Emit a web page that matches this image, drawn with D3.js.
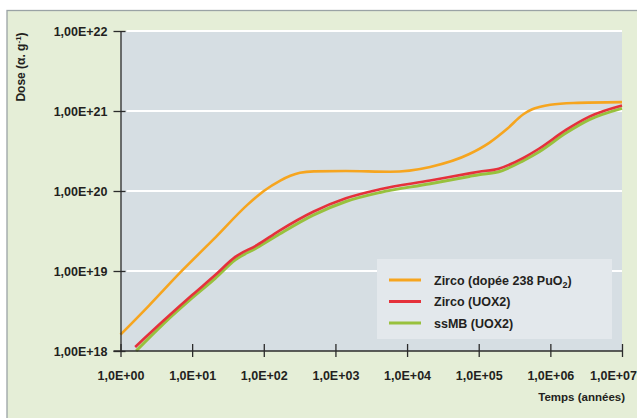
<!DOCTYPE html>
<html>
<head>
<meta charset="utf-8">
<script src="https://cdn.jsdelivr.net/npm/d3@7"></script>
<style>
  body { margin: 0; background: #fff; }
  svg { display: block; font-family: "Liberation Sans", Arial, sans-serif; }
  .axis path, .axis line { stroke: #2b2b2b; stroke-width: 1.3; }
  .axis text { font-size: 12.5px; font-weight: bold; fill: #231f20; }
</style>
</head>
<body>
<svg width="637" height="418"></svg>
<script>
// ages (years) and doses (alpha per gram)
var orangeYears = [1, 2.5, 7, 20, 60, 100, 170, 235, 320, 500, 1400, 5800, 2.1e4, 7.4e4, 1.4e5, 2.5e5, 4.2e5, 5.6e5, 7e5, 1e6, 2.1e6, 1e7];
var orangeDose  = [1.6e18, 3.7e18, 9.8e18, 2.5e19, 6.8e19, 1.0e20, 1.35e20, 1.55e20, 1.69e20, 1.76e20, 1.78e20, 1.74e20, 2.0e20, 2.9e20, 4.0e20, 6.0e20, 9.1e20, 1.05e21, 1.12e21, 1.2e21, 1.26e21, 1.29e21];

var redYears = [1.6, 4, 10, 21, 40, 80, 166, 490, 1400, 4200, 2.1e4, 7.4e4, 1e5, 1.9e5, 4.2e5, 7e5, 1.65e6, 3.5e6, 1e7];
var redDose  = [1.12e18, 2.4e18, 5.0e18, 8.9e18, 1.5e19, 2.1e19, 3.2e19, 5.5e19, 8.1e19, 1.05e20, 1.35e20, 1.66e20, 1.74e20, 1.9e20, 2.6e20, 3.4e20, 5.8e20, 8.5e20, 1.17e21];

var greenYears = [1.65, 4, 10, 21, 40, 80, 166, 490, 1400, 4200, 2.1e4, 7.4e4, 1e5, 1.9e5, 4.2e5, 7e5, 1.65e6, 3.5e6, 1e7];
var greenDose  = [1.0e18, 2.2e18, 4.6e18, 8.1e18, 1.38e19, 1.95e19, 2.9e19, 5.0e19, 7.4e19, 9.6e19, 1.23e20, 1.52e20, 1.6e20, 1.74e20, 2.4e20, 3.1e20, 5.3e20, 7.8e20, 1.08e21];

var xTicks = [1, 1e1, 1e2, 1e3, 1e4, 1e5, 1e6, 1e7];
var xTickLabels = ["1,0E+00", "1,0E+01", "1,0E+02", "1,0E+03", "1,0E+04", "1,0E+05", "1,0E+06", "1,0E+07"];
var yTicks = [1e18, 1e19, 1e20, 1e21, 1e22];
var yTickLabels = ["1,00E+18", "1,00E+19", "1,00E+20", "1,00E+21", "1,00E+22"];

var seriesNames = ["Zirco (dopée 238 PuO", "Zirco (UOX2)", "ssMB (UOX2)"];
var seriesColors = ["#f6a51f", "#e5313b", "#98c13d"];

var svg = d3.select("svg");

// frame
svg.append("rect").attr("x", 7).attr("y", 10.5).attr("width", 640).attr("height", 420)
    .attr("fill", "#e5eed7").attr("stroke", "#9aa3a5").attr("stroke-width", 1.3);

var x = d3.scaleLog().domain([1, 1e7]).range([120.5, 622]);
var y = d3.scaleLog().domain([1e18, 1e22]).range([351, 31]);

// plot area
svg.append("rect")
    .attr("x", x(1)).attr("y", y(1e22))
    .attr("width", x(1e7) - x(1)).attr("height", y(1e18) - y(1e22))
    .attr("fill", "#d6dee3");

svg.selectAll(".grid")
    .data(yTicks.slice(1))
    .enter().append("line")
    .attr("class", "grid")
    .attr("x1", x(1) + 6).attr("x2", x(1e7))
    .attr("y1", d => y(d)).attr("y2", d => y(d))
    .attr("stroke", "#fff").attr("stroke-width", 2.2);

// curves
var line = d3.line()
    .x(d => x(d[0]))
    .y(d => y(d[1]))
    .curve(d3.curveMonotoneX);

var series = [
    { years: greenYears, dose: greenDose, color: seriesColors[2], w: 3 },
    { years: redYears, dose: redDose, color: seriesColors[1], w: 2.6 },
    { years: orangeYears, dose: orangeDose, color: seriesColors[0], w: 2.6 }
];

series.forEach(function(s) {
    svg.append("path")
        .datum(s.years.map((t, i) => [t, s.dose[i]]))
        .attr("d", line)
        .attr("fill", "none")
        .attr("stroke", s.color)
        .attr("stroke-width", s.w)
        .attr("stroke-linejoin", "round");
});

// axes
var yAxis = svg.append("g")
    .attr("class", "axis")
    .attr("transform", "translate(" + x(1) + ",0)")
    .call(d3.axisLeft(y).tickValues(yTicks).tickSize(7).tickSizeOuter(0)
        .tickFormat((d, i) => yTickLabels[i]));
yAxis.selectAll(".tick line").attr("x1", 5).attr("x2", -7);
yAxis.selectAll(".tick text").attr("x", -13);

var xAxis = svg.append("g")
    .attr("class", "axis")
    .attr("transform", "translate(0," + y(1e18) + ")")
    .call(d3.axisBottom(x).tickValues(xTicks).tickSize(6).tickSizeOuter(0)
        .tickFormat((d, i) => xTickLabels[i]));
xAxis.selectAll(".tick line").attr("y1", -7).attr("y2", 6);
xAxis.selectAll(".tick text").attr("y", 20);
// last label pushed left so it stays inside the frame
xAxis.selectAll(".tick text").filter(d => d === 1e7)
    .attr("text-anchor", "end").attr("x", 14.5);
xAxis.select(".domain").attr("d", "M" + (x(1) - 7) + ",0H" + x(1e7));

// axis titles
var yTitle = svg.append("text")
    .attr("transform", "translate(25,67) rotate(-90)")
    .attr("text-anchor", "middle")
    .attr("font-size", "12px").attr("font-weight", "bold").attr("fill", "#231f20");
yTitle.append("tspan").text("Dose (α. g");
yTitle.append("tspan").attr("dy", -4).attr("font-size", "8px").text("-1");
yTitle.append("tspan").attr("dy", 4).text(")");

svg.append("text")
    .attr("x", 625).attr("y", 401)
    .attr("text-anchor", "end")
    .attr("font-size", "11.5px").attr("font-weight", "bold").attr("fill", "#231f20")
    .text("Temps (années)");

// legend
var legend = svg.append("g").attr("transform", "translate(377,259)");
legend.append("rect").attr("width", 235).attr("height", 80).attr("fill", "#e3e8ec");

var rows = legend.selectAll(".row")
    .data(seriesNames)
    .enter().append("g")
    .attr("class", "row")
    .attr("transform", (d, i) => "translate(0," + (21 + i * 21.5) + ")");

rows.append("line")
    .attr("x1", 12).attr("x2", 44)
    .attr("stroke", (d, i) => seriesColors[i])
    .attr("stroke-width", 3);

var labels = rows.append("text")
    .attr("x", 57).attr("y", 4.5)
    .attr("font-size", "12.5px").attr("font-weight", "bold").attr("fill", "#231f20");
labels.append("tspan").text(d => d);
labels.filter((d, i) => i === 0).append("tspan").attr("dy", 3).attr("font-size", "9px").text("2");
labels.filter((d, i) => i === 0).append("tspan").attr("dy", -3).text(")");
</script>
</body>
</html>
